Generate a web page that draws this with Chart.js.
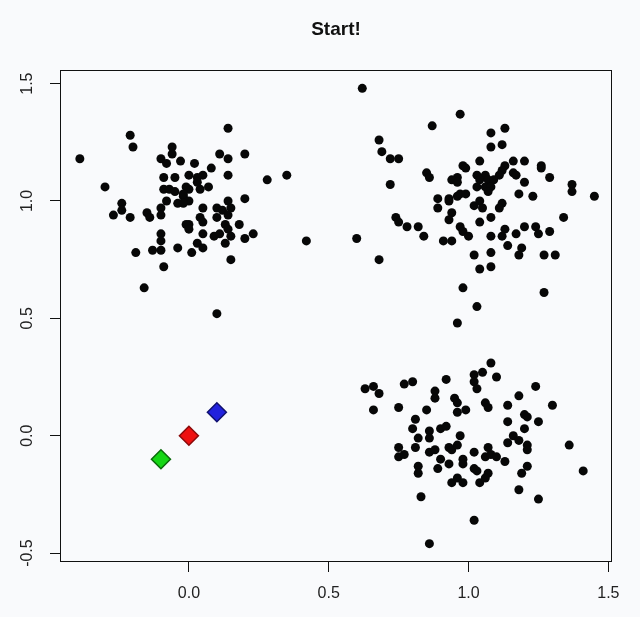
<!DOCTYPE html>
<html>
<head>
<meta charset="utf-8">
<script src="https://cdn.jsdelivr.net/npm/chart.js@4.4.1/dist/chart.umd.min.js"></script>
<style>
  html, body { margin: 0; padding: 0; background: #f9fafc; }
  canvas { display: block; }
</style>
</head>
<body>
<canvas id="kmeansChart" width="640" height="617"></canvas>
<script>
// точки: [x, y]
const groupTopLeft = [
  [-0.21, 1.28], [-0.20, 1.23], [-0.39, 1.18], [-0.06, 1.23], [-0.06, 1.20], [-0.10, 1.18],
  [-0.08, 1.16], [-0.03, 1.17], [-0.30, 1.06], [-0.09, 1.10], [-0.05, 1.10], [-0.09, 1.05],
  [-0.07, 1.05], [-0.05, 1.04], [-0.04, 0.99], [-0.08, 1.00], [-0.10, 0.97], [-0.24, 0.99],
  [-0.24, 0.96], [-0.27, 0.94], [-0.21, 0.93], [-0.15, 0.95], [-0.14, 0.93], [-0.10, 0.94],
  [0.00, 0.90], [-0.10, 0.86], [-0.10, 0.83], [-0.19, 0.78], [-0.13, 0.79], [-0.10, 0.79],
  [-0.04, 0.80], [-0.09, 0.72], [-0.16, 0.63], [0.14, 1.31], [0.11, 1.20], [0.14, 1.18],
  [0.20, 1.20], [0.02, 1.16], [0.08, 1.14], [0.14, 1.11], [0.28, 1.09], [0.35, 1.11],
  [0.05, 1.11], [0.03, 1.10], [0.07, 1.06], [0.04, 1.05], [0.00, 1.05], [-0.02, 1.02],
  [0.00, 1.00], [-0.02, 0.99], [0.14, 1.00], [0.20, 1.01], [0.05, 0.97], [0.10, 0.97],
  [0.12, 0.96], [0.15, 0.97], [0.14, 0.94], [0.04, 0.93], [0.05, 0.91], [-0.01, 0.90],
  [0.00, 0.88], [0.13, 0.90], [0.14, 0.88], [0.15, 0.85], [0.18, 0.90], [0.05, 0.86],
  [0.09, 0.85], [0.11, 0.86], [0.20, 0.84], [0.23, 0.86], [0.13, 0.82], [0.03, 0.82],
  [0.05, 0.80], [0.01, 0.78], [0.15, 0.75], [0.42, 0.83], [0.10, 0.52], [0.00, 1.11],
  [-0.01, 1.06], [0.03, 1.08], [-0.02, 1.03], [0.10, 0.93]
];

const groupTopRight = [
  [0.62, 1.48], [0.97, 1.37], [0.87, 1.32], [0.68, 1.26], [0.69, 1.21], [0.72, 1.18],
  [0.75, 1.18], [0.85, 1.12], [0.86, 1.10], [0.98, 1.15], [0.99, 1.14], [1.04, 1.17],
  [1.03, 1.11], [0.96, 1.10], [0.94, 1.09], [0.96, 1.08], [0.72, 1.07], [1.03, 1.06],
  [0.89, 1.01], [0.89, 0.97], [0.93, 1.01], [0.93, 1.00], [0.96, 1.02], [0.97, 1.03],
  [0.99, 1.03], [1.02, 0.98], [1.04, 1.00], [0.94, 0.95], [0.93, 0.92], [0.74, 0.93],
  [0.75, 0.91], [0.78, 0.89], [0.82, 0.89], [0.84, 0.85], [0.60, 0.84], [0.91, 0.83],
  [0.94, 0.83], [0.97, 0.89], [0.98, 0.87], [1.00, 0.85], [1.04, 0.91], [0.68, 0.75],
  [1.02, 0.77], [1.04, 0.71], [0.98, 0.63], [1.03, 0.55], [0.96, 0.48], [1.08, 1.29],
  [1.13, 1.31], [1.08, 1.23], [1.12, 1.24], [1.16, 1.17], [1.20, 1.17], [1.26, 1.15],
  [1.26, 1.14], [1.29, 1.10], [1.13, 1.15], [1.12, 1.13], [1.11, 1.11], [1.16, 1.12],
  [1.17, 1.11], [1.20, 1.08], [1.06, 1.11], [1.04, 1.09], [1.07, 1.09], [1.09, 1.09],
  [1.06, 1.06], [1.08, 1.06], [1.07, 1.04], [1.18, 1.03], [1.23, 1.02], [1.37, 1.07],
  [1.37, 1.04], [1.45, 1.02], [1.05, 0.97], [1.12, 0.99], [1.11, 0.97], [1.08, 0.93],
  [1.34, 0.93], [1.20, 0.89], [1.24, 0.89], [1.25, 0.86], [1.29, 0.87], [1.13, 0.88],
  [1.12, 0.85], [1.17, 0.86], [1.08, 0.85], [1.14, 0.81], [1.19, 0.80], [1.18, 0.77],
  [1.08, 0.78], [1.27, 0.77], [1.31, 0.77], [1.08, 0.72], [1.27, 0.61]
];

const groupBottomRight = [
  [0.63, 0.20], [0.66, 0.21], [0.68, 0.18], [0.77, 0.22], [0.80, 0.23], [0.92, 0.24],
  [1.02, 0.26], [1.02, 0.23], [1.03, 0.20], [0.66, 0.11], [0.75, 0.12], [0.85, 0.11],
  [0.88, 0.19], [0.88, 0.16], [0.95, 0.16], [0.96, 0.14], [0.96, 0.10], [0.99, 0.11],
  [0.81, 0.07], [0.80, 0.03], [0.86, 0.02], [0.86, -0.01], [0.90, 0.03], [0.92, 0.04],
  [0.97, 0.00], [0.82, -0.01], [0.81, -0.05], [0.75, -0.05], [0.75, -0.09], [0.77, -0.08],
  [0.86, -0.07], [0.88, -0.06], [0.93, -0.05], [0.94, -0.06], [0.96, -0.04], [1.02, -0.07],
  [0.90, -0.10], [0.93, -0.12], [0.98, -0.10], [0.98, -0.12], [1.02, -0.14], [0.82, -0.13],
  [0.82, -0.16], [0.89, -0.14], [0.94, -0.20], [0.96, -0.18], [0.98, -0.20], [1.04, -0.20],
  [0.83, -0.26], [1.02, -0.36], [0.86, -0.46], [1.08, 0.31], [1.05, 0.27], [1.10, 0.25],
  [1.24, 0.21], [1.18, 0.17], [1.14, 0.13], [1.06, 0.14], [1.07, 0.12], [1.30, 0.13],
  [1.20, 0.09], [1.21, 0.08], [1.14, 0.06], [1.25, 0.06], [1.20, 0.03], [1.16, 0.00],
  [1.18, -0.02], [1.14, -0.03], [1.21, -0.04], [1.21, -0.06], [1.36, -0.04], [1.07, -0.05],
  [1.06, -0.09], [1.08, -0.08], [1.10, -0.09], [1.13, -0.11], [1.03, -0.15], [1.07, -0.16],
  [1.06, -0.18], [1.21, -0.13], [1.19, -0.16], [1.41, -0.15], [1.18, -0.23], [1.25, -0.27]
];

// стартовые центры
const centreX = [-0.1, 0.0, 0.1];
const centreY = [-0.1, 0.0, 0.1];
const centreFill = ['#16d616', '#ee1111', '#2222dd'];
const centreEdge = ['#0a6a0a', '#8a0a0a', '#10106e'];

const xTicks = [0, 0.5, 1, 1.5];
const yTicks = [-0.5, 0, 0.5, 1, 1.5];

const allPoints = groupTopLeft.concat(groupTopRight, groupBottomRight)
    .map(p => ({ x: p[0], y: p[1] }));

const centreSets = centreX.map((cx, i) => ({
    label: 'centre ' + (i + 1),
    data: [{ x: cx, y: centreY[i] }],
    pointStyle: 'rectRot',
    pointRadius: 9.5,
    backgroundColor: centreFill[i],
    borderColor: centreEdge[i],
    borderWidth: 1.5
}));

// рамка, подписи оси Y (повернутые, как в R) и заголовок
const rStyle = {
    id: 'rStyle',
    afterDraw(chart) {
        const ctx = chart.ctx;
        const a = chart.chartArea;
        const ys = chart.scales.y;
        ctx.save();
        ctx.strokeStyle = '#111';
        ctx.lineWidth = 1;
        ctx.strokeRect(a.left + 0.5, a.top + 0.5, a.right - a.left - 1, a.bottom - a.top - 1);

        ctx.fillStyle = '#222';
        ctx.font = '16px "Liberation Sans", Arial, sans-serif';
        ctx.textAlign = 'center';
        ctx.textBaseline = 'middle';
        yTicks.forEach(v => {
            const py = ys.getPixelForValue(v);
            ctx.save();
            ctx.translate(28, py);
            ctx.rotate(-Math.PI / 2);
            ctx.fillText(v.toFixed(1), 0, 0);
            ctx.restore();
        });

        ctx.fillStyle = '#111';
        ctx.font = 'bold 19px "Liberation Sans", Arial, sans-serif';
        ctx.fillText('Start!', (a.left + a.right) / 2, 30);
        ctx.restore();
    }
};

const ctx = document.getElementById('kmeansChart').getContext('2d');
new Chart(ctx, {
    type: 'scatter',
    data: {
        datasets: centreSets.concat([{
            label: 'points',
            data: allPoints,
            pointRadius: 4.5,
            backgroundColor: '#070707',
            borderColor: '#070707',
            borderWidth: 0
        }])
    },
    options: {
        responsive: false,
        animation: false,
        events: [],
        layout: { padding: { top: 70, right: 28, left: 0, bottom: 0 } },
        plugins: {
            legend: { display: false },
            tooltip: { enabled: false }
        },
        scales: {
            x: {
                type: 'linear',
                min: -0.461,
                max: 1.513,
                afterBuildTicks: s => { s.ticks = xTicks.map(v => ({ value: v })); },
                afterFit: s => { s.height = 55; },
                grid: { drawOnChartArea: false, color: '#111', tickLength: 10 },
                border: { display: false },
                ticks: {
                    color: '#222',
                    padding: 12,
                    maxRotation: 0,
                    font: { family: '"Liberation Sans", Arial, sans-serif', size: 16 },
                    callback: v => v.toFixed(1)
                }
            },
            y: {
                type: 'linear',
                min: -0.538,
                max: 1.558,
                afterBuildTicks: s => { s.ticks = yTicks.map(v => ({ value: v })); },
                afterFit: s => { s.width = 60; },
                grid: { drawOnChartArea: false, color: '#111', tickLength: 10 },
                border: { display: false },
                ticks: { display: false }
            }
        }
    },
    plugins: [rStyle]
});
</script>
</body>
</html>
